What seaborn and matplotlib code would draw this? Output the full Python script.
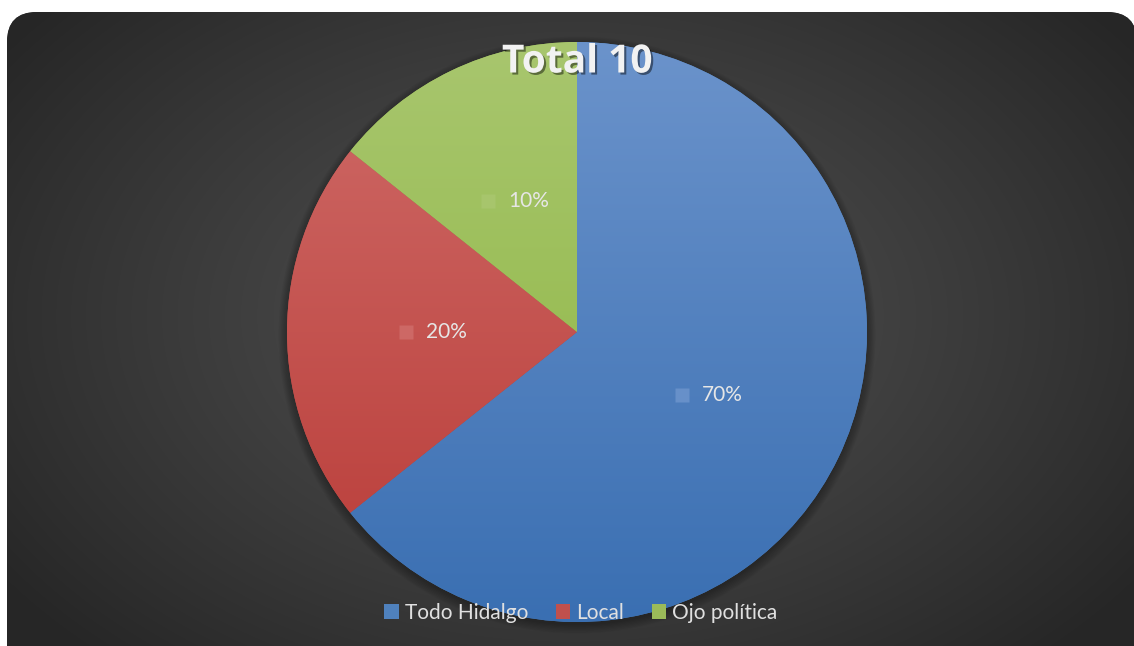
import numpy as np
import matplotlib
matplotlib.use("Agg")
import matplotlib.pyplot as plt
import matplotlib.patheffects as pe
from matplotlib.patches import FancyBboxPatch, Circle, Patch
from matplotlib.colors import to_rgb
import seaborn as sns

# data
categories = ["Todo Hidalgo", "Local", "Ojo política"]
values = [9, 3, 2]
label_texts = ["70%", "20%", "10%"]
title = "Total 10"

# colours (top / bottom of the vertical gradient)
base_colors = ["#4f81bd", "#c0504d", "#9bbb59"]
top_colors = ["#6b93cb", "#cf6b68", "#a8c66e"]
bottom_colors = ["#3a6fb2", "#b93b37", "#8cb53e"]

sns.set_style("dark")
plt.rcParams['font.family'] = ['Lato', 'DejaVu Sans']

W, H = 1134, 646
fig = plt.figure(figsize=(W / 100, H / 100), dpi=100)
fig.patch.set_facecolor("white")
ax = fig.add_axes([0, 0, 1, 1])

# dark rounded background with radial gradient
bg = FancyBboxPatch((7, -40), 1130, 634 + 40, boxstyle="round,pad=0,rounding_size=30",
                    facecolor="#333333", edgecolor="none", zorder=0)
ax.add_patch(bg)
yy, xx = np.mgrid[0:H, 0:W]
d = np.sqrt(((xx - 570) / 700.0) ** 2 + ((yy - 316) / 470.0) ** 2)
g = (80 - 42 * np.clip(d, 0, 1) ** 1.2) / 255.0
img = np.dstack([g, g, g])
im = ax.imshow(img, extent=(0, W, 0, H), origin="upper", zorder=1, interpolation="bilinear")
im.set_clip_path(bg)

cx, cy, r = 577, 314, 290

# soft shadow under the pie
for k in range(8):
    ax.add_patch(Circle((cx, cy - 3), r + k * 1.2, facecolor="black", alpha=0.04,
                        edgecolor="none", zorder=2))

wedges, _ = ax.pie(values, colors=base_colors, startangle=90, counterclock=False,
                   center=(cx, cy), radius=r, frame=True,
                   wedgeprops=dict(edgecolor="none", zorder=3))

# vertical gradient on each slice
for w, c_top, c_bot in zip(wedges, top_colors, bottom_colors):
    t = np.linspace(0, 1, 256)[:, None]
    ct, cb = np.array(to_rgb(c_top)), np.array(to_rgb(c_bot))
    grad = ct[None, None, :] * (1 - t[:, :, None]) + cb[None, None, :] * t[:, :, None]
    gi = ax.imshow(grad, extent=(cx - r, cx + r, cy - r, cy + r), origin="upper",
                   aspect="auto", zorder=4, interpolation="bilinear")
    gi.set_clip_path(w)

# data labels: small marker + percentage at half radius
for w, txt, c_top, c_bot in zip(wedges, label_texts, top_colors, bottom_colors):
    mid = np.deg2rad((w.theta1 + w.theta2) / 2)
    lx, ly = cx + 0.5 * r * np.cos(mid), cy + 0.5 * r * np.sin(mid)
    ax.plot(lx - 26, ly, marker="s", markersize=10, color=c_top, markeredgecolor="none",
            alpha=0.9, zorder=6)
    ax.text(lx - 6, ly, txt, color="#e6e6e6", fontsize=15, ha="left", va="center", zorder=6)

ax.text(cx, 584, title, color="#f2f2f2", fontsize=28, fontweight="bold", ha="center",
        va="center", zorder=7, family=["Open Sans", "DejaVu Sans"],
        path_effects=[pe.withSimplePatchShadow(offset=(1.5, -1.5), shadow_rgbFace="black", alpha=0.45)])

handles = [Patch(facecolor=c, edgecolor="none") for c in base_colors]
leg = ax.legend(handles, categories, loc="center", bbox_to_anchor=(581 / W, 1 - 613 / H),
                ncol=3, frameon=False, fontsize=15, handlelength=0.7, handleheight=0.7,
                handletextpad=0.3, columnspacing=1.3, labelcolor="#e0e0e0")
leg.set_zorder(8)

ax.set_xlim(0, W)
ax.set_ylim(0, H)
ax.set_aspect("auto")
ax.axis("off")

fig.savefig("out.png", dpi=100, facecolor="white")
